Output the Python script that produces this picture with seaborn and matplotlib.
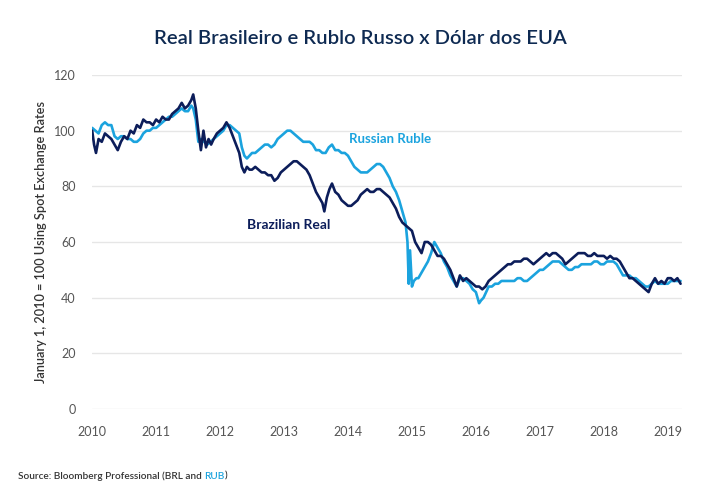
import numpy as np
import pandas as pd
import matplotlib
matplotlib.use("Agg")
import matplotlib.pyplot as plt
import seaborn as sns

# Index values (Jan 1, 2010 = 100)
brl_t = [2010.0, 2010.03, 2010.06, 2010.1, 2010.15, 2010.2, 2010.25, 2010.3, 2010.35, 2010.4,
         2010.45, 2010.5, 2010.55, 2010.6, 2010.65, 2010.7, 2010.75, 2010.8, 2010.85, 2010.9,
         2010.95, 2011.0, 2011.05, 2011.1, 2011.15, 2011.2, 2011.25, 2011.3, 2011.35, 2011.4,
         2011.45, 2011.5, 2011.55, 2011.58, 2011.62, 2011.66, 2011.7, 2011.74, 2011.78, 2011.82,
         2011.86, 2011.9, 2011.95, 2012.0, 2012.05, 2012.1, 2012.15, 2012.2, 2012.25, 2012.3,
         2012.34, 2012.38, 2012.42, 2012.46, 2012.5, 2012.55, 2012.6, 2012.65, 2012.7, 2012.75,
         2012.8, 2012.85, 2012.9, 2012.95, 2013.0, 2013.05, 2013.1, 2013.15, 2013.2, 2013.25,
         2013.3, 2013.35, 2013.4, 2013.45, 2013.5, 2013.55, 2013.6, 2013.63, 2013.67, 2013.71,
         2013.75, 2013.8, 2013.85, 2013.9, 2013.95, 2014.0, 2014.05, 2014.1, 2014.15, 2014.2,
         2014.25, 2014.3, 2014.35, 2014.4, 2014.45, 2014.5, 2014.55, 2014.6, 2014.65, 2014.7,
         2014.75, 2014.8, 2014.85, 2014.9, 2014.95, 2015.0, 2015.05, 2015.1, 2015.15, 2015.2,
         2015.25, 2015.3, 2015.35, 2015.4, 2015.45, 2015.5, 2015.55, 2015.6, 2015.65, 2015.7,
         2015.75, 2015.8, 2015.85, 2015.9, 2015.95, 2016.0, 2016.05, 2016.1, 2016.15, 2016.2,
         2016.25, 2016.3, 2016.35, 2016.4, 2016.45, 2016.5, 2016.55, 2016.6, 2016.65, 2016.7,
         2016.75, 2016.8, 2016.85, 2016.9, 2016.95, 2017.0, 2017.05, 2017.1, 2017.15, 2017.2,
         2017.25, 2017.3, 2017.35, 2017.4, 2017.45, 2017.5, 2017.55, 2017.6, 2017.65, 2017.7,
         2017.75, 2017.8, 2017.85, 2017.9, 2017.95, 2018.0, 2018.05, 2018.1, 2018.15, 2018.2,
         2018.25, 2018.3, 2018.35, 2018.4, 2018.45, 2018.5, 2018.55, 2018.6, 2018.65, 2018.7,
         2018.75, 2018.8, 2018.85, 2018.9, 2018.95, 2019.0, 2019.05, 2019.1, 2019.15, 2019.2]
brl_v = [100, 95, 92, 97, 96, 99, 98, 97, 95, 93,
         96, 98, 97, 100, 99, 102, 101, 104, 103, 103,
         102, 104, 103, 105, 104, 104, 106, 107, 108, 110,
         108, 109, 111, 113, 108, 100, 93, 100, 94, 97,
         95, 97, 99, 100, 101, 103, 101, 98, 95, 92,
         87, 85, 87, 86, 86, 87, 86, 85, 85, 84,
         84, 82, 83, 85, 86, 87, 88, 89, 89, 88,
         87, 86, 84, 81, 78, 76, 74, 71, 76, 79,
         81, 78, 77, 75, 74, 73, 73, 74, 75, 77,
         78, 79, 78, 78, 79, 79, 78, 77, 76, 74,
         72, 69, 67, 66, 65, 64, 60, 58, 56, 60,
         60, 59, 57, 55, 55, 54, 52, 50, 47, 44,
         48, 46, 47, 46, 45, 44, 44, 43, 44, 46,
         47, 48, 49, 50, 51, 52, 52, 53, 53, 53,
         54, 54, 53, 52, 53, 54, 55, 56, 55, 56,
         56, 55, 54, 52, 53, 54, 55, 56, 56, 56,
         55, 55, 56, 55, 55, 55, 54, 55, 54, 54,
         53, 51, 49, 47, 47, 46, 45, 44, 43, 42,
         45, 47, 45, 46, 45, 47, 47, 46, 47, 45]

rub_t = [2010.0, 2010.05, 2010.1, 2010.15, 2010.2, 2010.25, 2010.3, 2010.35, 2010.4, 2010.45,
         2010.5, 2010.55, 2010.6, 2010.65, 2010.7, 2010.75, 2010.8, 2010.85, 2010.9, 2010.95,
         2011.0, 2011.05, 2011.1, 2011.15, 2011.2, 2011.25, 2011.3, 2011.35, 2011.4, 2011.45,
         2011.5, 2011.55, 2011.58, 2011.62, 2011.66, 2011.7, 2011.75, 2011.8, 2011.85, 2011.9,
         2011.95, 2012.0, 2012.05, 2012.1, 2012.15, 2012.2, 2012.25, 2012.3, 2012.34, 2012.38,
         2012.42, 2012.46, 2012.5, 2012.55, 2012.6, 2012.65, 2012.7, 2012.75, 2012.8, 2012.85,
         2012.9, 2012.95, 2013.0, 2013.05, 2013.1, 2013.15, 2013.2, 2013.25, 2013.3, 2013.35,
         2013.4, 2013.45, 2013.5, 2013.55, 2013.6, 2013.65, 2013.7, 2013.75, 2013.8, 2013.85,
         2013.9, 2013.95, 2014.0, 2014.05, 2014.1, 2014.15, 2014.2, 2014.25, 2014.3, 2014.35,
         2014.4, 2014.45, 2014.5, 2014.55, 2014.6, 2014.65, 2014.7, 2014.75, 2014.8, 2014.85,
         2014.9, 2014.93, 2014.95, 2014.97, 2015.0, 2015.03, 2015.07, 2015.1, 2015.15, 2015.2,
         2015.25, 2015.3, 2015.35, 2015.4, 2015.45, 2015.5, 2015.55, 2015.6, 2015.65, 2015.7,
         2015.75, 2015.8, 2015.85, 2015.9, 2015.95, 2016.0, 2016.05, 2016.08, 2016.12, 2016.16,
         2016.2, 2016.25, 2016.3, 2016.35, 2016.4, 2016.45, 2016.5, 2016.55, 2016.6, 2016.65,
         2016.7, 2016.75, 2016.8, 2016.85, 2016.9, 2016.95, 2017.0, 2017.05, 2017.1, 2017.15,
         2017.2, 2017.25, 2017.3, 2017.35, 2017.4, 2017.45, 2017.5, 2017.55, 2017.6, 2017.65,
         2017.7, 2017.75, 2017.8, 2017.85, 2017.9, 2017.95, 2018.0, 2018.05, 2018.1, 2018.15,
         2018.2, 2018.25, 2018.3, 2018.35, 2018.4, 2018.45, 2018.5, 2018.55, 2018.6, 2018.65,
         2018.7, 2018.75, 2018.8, 2018.85, 2018.9, 2018.95, 2019.0, 2019.05, 2019.1, 2019.15,
         2019.2]
rub_v = [101, 100, 99, 102, 103, 102, 102, 98, 97, 98,
         98, 97, 97, 96, 96, 97, 99, 100, 100, 101,
         101, 102, 103, 104, 105, 105, 106, 107, 108, 107,
         107, 109, 108, 104, 96, 97, 96, 95, 96, 97,
         98, 99, 100, 102, 102, 101, 100, 99, 94, 91,
         90, 91, 92, 92, 93, 94, 95, 95, 94, 95,
         97, 98, 99, 100, 100, 99, 98, 97, 96, 96,
         96, 95, 93, 93, 92, 92, 94, 95, 93, 93,
         92, 92, 91, 89, 87, 86, 85, 85, 85, 86,
         87, 88, 88, 87, 85, 83, 80, 78, 75, 71,
         67, 60, 45, 57, 44, 46, 47, 47, 49, 51,
         53, 56, 60, 58, 56, 53, 51, 48, 46, 44,
         47, 47, 46, 45, 43, 42, 38, 39, 40, 42,
         44, 44, 45, 45, 46, 46, 46, 46, 46, 47,
         47, 46, 46, 47, 48, 49, 50, 50, 51, 52,
         53, 53, 53, 52, 51, 50, 50, 51, 51, 52,
         52, 52, 52, 53, 53, 52, 52, 53, 53, 53,
         52, 50, 48, 48, 48, 47, 47, 46, 45, 44,
         44, 45, 46, 45, 45, 45, 45, 46, 46, 46,
         46]

navy = "#0c1d5a"
light = "#1ba3de"

df = pd.concat([
    pd.DataFrame({"year": brl_t, "index": brl_v, "currency": "Brazilian Real"}),
    pd.DataFrame({"year": rub_t, "index": rub_v, "currency": "Russian Ruble"}),
])

sns.set_theme(style="white")
plt.rcParams["font.family"] = ["Lato", "DejaVu Sans"]

fig = plt.figure(figsize=(7.2, 5.0), dpi=100)
ax = fig.add_axes([0.128, 0.182, 0.819, 0.668])

sns.lineplot(data=df, x="year", y="index", hue="currency",
             palette={"Brazilian Real": navy, "Russian Ruble": light},
             hue_order=["Russian Ruble", "Brazilian Real"],
             linewidth=1.9, legend=False, ax=ax)

ax.set_xlim(2010, 2019.22)
ax.set_ylim(0, 120)
ax.set_xticks(range(2010, 2020))
ax.set_yticks(range(0, 121, 20))
ax.yaxis.grid(True, color="#e6e6e6", linewidth=1)
ax.set_axisbelow(True)
for s in ax.spines.values():
    s.set_visible(False)
ax.tick_params(axis="x", length=4, color="#dddddd", labelsize=9, labelcolor="#555555", pad=8)
ax.tick_params(axis="y", length=0, labelsize=9, labelcolor="#555555", pad=12)
for lab in ax.get_yticklabels() + ax.get_xticklabels():
    lab.set_clip_on(False)
ax.set_xlabel("")
ax.set_ylabel("January 1, 2010 = 100 Using Spot Exchange Rates", fontsize=9.2,
              color="#333333", fontweight="semibold", labelpad=5)

ax.text(2014.02, 95.5, "Russian Ruble", color=light, fontsize=9.5, fontweight="bold")
ax.text(2012.42, 64.5, "Brazilian Real", color=navy, fontsize=10, fontweight="bold")

fig.text(0.5, 0.924, "Real Brasileiro e Rublo Russo x Dólar dos EUA", ha="center",
         va="center", fontsize=14.6, color="#0e2a52", fontweight="semibold")

# source line with the RUB part in blue
src = fig.text(0.025, 0.047, "Source: Bloomberg Professional (BRL and ", fontsize=7.2,
               color="#333333", fontweight="semibold", va="center")
fig.canvas.draw()
r = fig.canvas.get_renderer()
bb = src.get_window_extent(r)
x1 = bb.x1 / fig.bbox.width
rub = fig.text(x1, 0.047, "RUB", fontsize=7.2, color=light, fontweight="semibold", va="center")
bb2 = rub.get_window_extent(r)
fig.text(bb2.x1 / fig.bbox.width, 0.047, ")", fontsize=7.2, color="#333333",
         fontweight="semibold", va="center")

fig.savefig("out.png", dpi=100, facecolor="white")
